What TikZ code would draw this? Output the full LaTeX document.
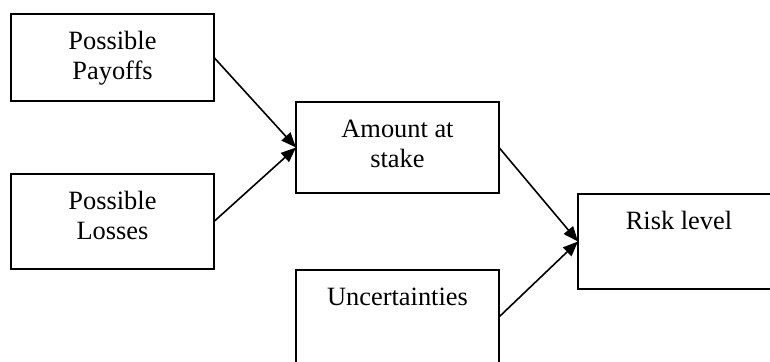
\documentclass[tikz,border=0pt]{standalone}
\usepackage{fontspec}
\setmainfont{Liberation Serif}
\usetikzlibrary{arrows.meta}
\tikzset{
  box/.style={draw=black, line width=1.6pt, rectangle, inner sep=0pt, outer sep=0pt, anchor=north west},
  arr/.style={line width=1.6pt, -{Triangle[length=15pt,width=12pt]}}
}
\newcommand{\boxtext}[3]{\parbox[t][#2][t]{#1}{\centering\fontsize{26.4pt}{30.6pt}\selectfont\rule{0pt}{35pt}#3}}
\begin{document}
\begin{tikzpicture}[x=1pt,y=-1pt]
\clip (0,0) rectangle (770,361);
\fill[white] (0,0) rectangle (770,361);
\node[box] (pay) at (11,14) {\boxtext{203pt}{87pt}{Possible\\Payoffs}};
\node[box] (los) at (11,174) {\boxtext{203pt}{95pt}{Possible\\Losses}};
\node[box] (amt) at (296,102) {\boxtext{203pt}{91pt}{Amount at\\stake}};
\node[box] (unc) at (296,270) {\boxtext{203pt}{94pt}{Uncertainties}};
\node[box] (risk) at (578,194) {\boxtext{202pt}{95pt}{Risk level}};
\draw[arr] (pay.east) -- (amt.west);
\draw[arr] (los.east) -- (amt.west);
\draw[arr] (amt.east) -- (risk.west);
\draw[arr] (unc.east) -- (risk.west);
\end{tikzpicture}
\end{document}
